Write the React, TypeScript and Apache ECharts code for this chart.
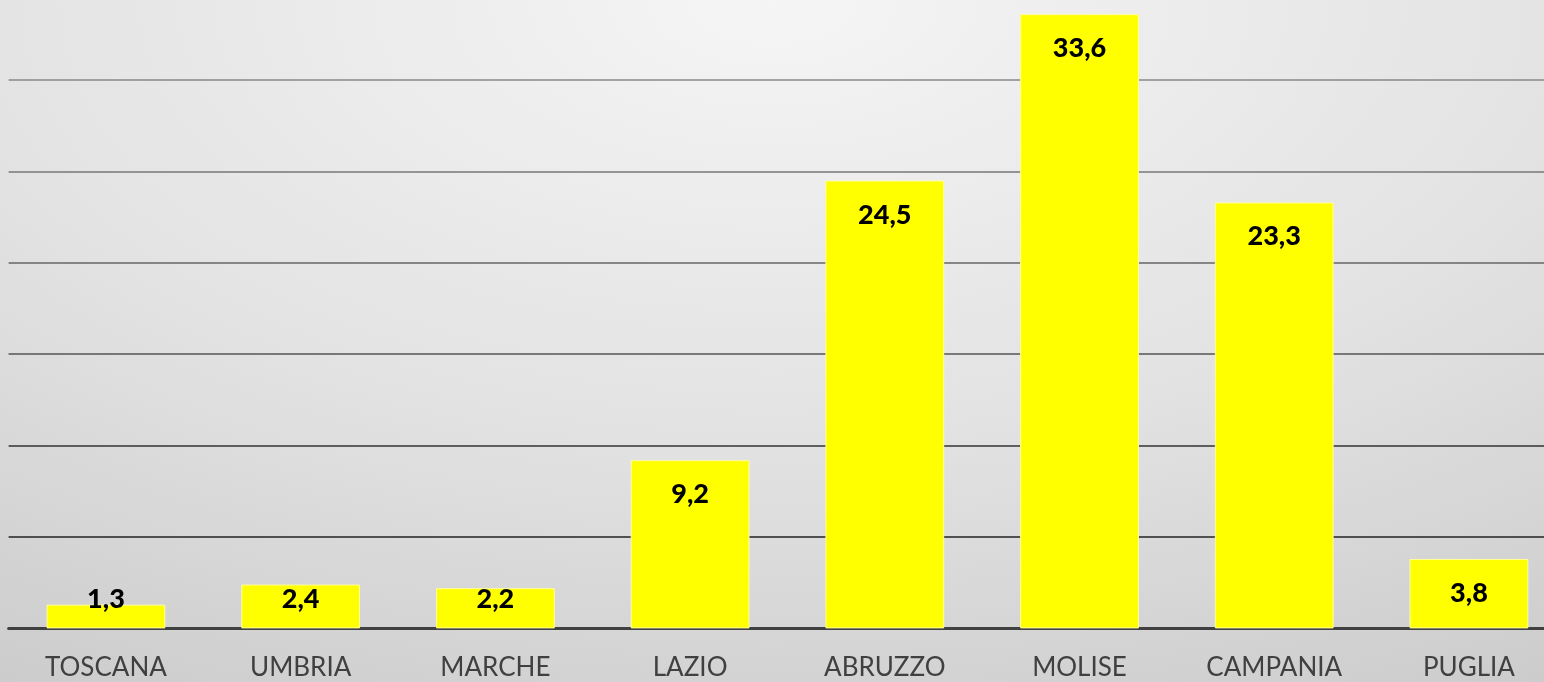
import React, { useEffect, useRef } from "react";
import * as echarts from "echarts";

const categories = ["TOSCANA", "UMBRIA", "MARCHE", "LAZIO", "ABRUZZO", "MOLISE", "CAMPANIA", "PUGLIA"];
const values = [1.3, 2.4, 2.2, 9.2, 24.5, 33.6, 23.3, 3.8];
const gridColors = ["#404040", "#222222", "#333333", "#555555", "#666666", "#777777", "#888888", "#999999"];

export default function App() {
  const ref = useRef<HTMLDivElement>(null);
  useEffect(() => {
    if (!ref.current) return;
    const chart = echarts.init(ref.current, undefined, { renderer: "svg" });
    chart.setOption({
      animation: false,
      backgroundColor: "transparent",
      grid: {
        left: 8.6,
        top: -11.4,
        width: 1557.7,
        height: 639.8,
        containLabel: false,
        outerBoundsMode: "none",
      },
      xAxis: {
        type: "category",
        data: categories,
        axisLine: { show: true, lineStyle: { color: "#404040", width: 3 } },
        axisTick: { show: false },
        axisLabel: {
          color: "#404040",
          fontFamily: "Lato",
          fontSize: 26,
          margin: 25,
          interval: 0,
        },
      },
      yAxis: {
        type: "value",
        min: 0,
        max: 35,
        interval: 5,
        axisLabel: { show: false },
        axisLine: { show: false },
        axisTick: { show: false },
        splitLine: { show: true, lineStyle: { color: gridColors, width: 1.5 } },
      },
      series: [
        {
          type: "bar",
          barCategoryGap: "39%",
          data: values.map((v) => ({
            value: v,
            label:
              v < 3
                ? { position: "insideBottom", distance: 17 }
                : { position: "insideTop", distance: 19 },
          })),
          itemStyle: { color: "#ffff00", borderColor: "#ffff99", borderWidth: 1 },
          label: {
            show: true,
            color: "#000000",
            fontFamily: "Lato",
            fontWeight: 900,
            fontSize: 27,
            formatter: (p: any) => String(p.value).replace(".", ","),
          },
        },
      ],
    });
    return () => chart.dispose();
  }, []);
  return (
    <div
      style={{
        position: "fixed",
        left: 0,
        top: 0,
        width: 1544,
        height: 682,
        background: "radial-gradient(ellipse 110% 130% at 50% 0%, #f5f5f5 0%, #e2e2e2 50%, #c6c6c6 100%)",
      }}
    >
      <div ref={ref} style={{ width: 1544, height: 682 }} />
    </div>
  );
}
